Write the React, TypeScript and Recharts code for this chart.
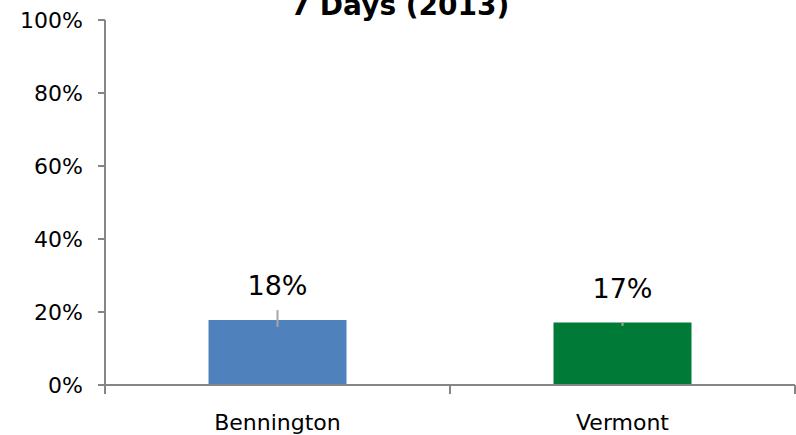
import React from 'react';
import { BarChart, Bar, XAxis, YAxis, ErrorBar, LabelList, Cell } from 'recharts';

const categories = ['Bennington', 'Vermont'];
const values = [17.8, 17.1];
const errorLow = [1.9, 0.9];
const errorHigh = [2.7, 0.2];
const barColors = ['#4F81BD', '#007A37'];
const yTicks = [0, 20, 40, 60, 80, 100];
const title = '7 Days (2013)';

const data = categories.map((name, i) => ({
  name,
  value: values[i],
  err: [errorLow[i], errorHigh[i]],
  edge: i + 0.5,
}));
const edgeTicks = [...categories.map((_, i) => i), categories.length];

const FONT = '"DejaVu Sans", sans-serif';
const AXIS = '#868686';

export default function App() {
  return (
    <div style={{ position: 'absolute', left: 0, top: 0, width: 796, height: 435, fontFamily: FONT }}>
      <BarChart
        width={796}
        height={435}
        data={data}
        margin={{ top: 20, right: 1, left: 0, bottom: 0 }}
        barCategoryGap="30%"
      >
        <XAxis
          xAxisId="cat"
          dataKey="name"
          height={49}
          axisLine={false}
          tickLine={false}
          tickSize={6}
          tickMargin={22}
          tick={{ fontSize: 22, fill: '#000', fontFamily: FONT }}
        />
        <XAxis
          xAxisId="aaEdges"
          type="number"
          dataKey="edge"
          domain={[0, categories.length]}
          ticks={edgeTicks}
          height={1}
          axisLine={{ stroke: AXIS, strokeWidth: 2 }}
          tickLine={{ stroke: AXIS, strokeWidth: 2 }}
          tickSize={9}
          interval={0}
          tickFormatter={() => ''}
          allowDataOverflow
        />
        <YAxis
          width={105}
          domain={[0, 100]}
          ticks={yTicks}
          tickFormatter={(v) => `${v}%`}
          axisLine={{ stroke: AXIS, strokeWidth: 2 }}
          tickLine={{ stroke: AXIS, strokeWidth: 2 }}
          tickSize={7}
          tickMargin={15}
          tick={{ fontSize: 22, fill: '#000', fontFamily: FONT }}
        />
        <Bar dataKey="value" xAxisId="cat" isAnimationActive={false}>
          {data.map((d, i) => (
            <Cell key={d.name} fill={barColors[i]} />
          ))}
          <ErrorBar dataKey="err" width={0} stroke="#A6A6A6" strokeWidth={2} direction="y" />
          <LabelList
            dataKey="value"
            position="top"
            offset={25}
            formatter={(v) => `${Math.round(Number(v))}%`}
            style={{ fontSize: 27, fill: '#000', fontFamily: FONT }}
          />
        </Bar>
      </BarChart>
      <svg width={796} height={435} style={{ position: 'absolute', left: 0, top: 0, pointerEvents: 'none' }}>
        <text x={400} y={15} textAnchor="middle" fontSize={28} fontWeight="bold" fontFamily={FONT} fill="#000">
          {title}
        </text>
      </svg>
    </div>
  );
}
